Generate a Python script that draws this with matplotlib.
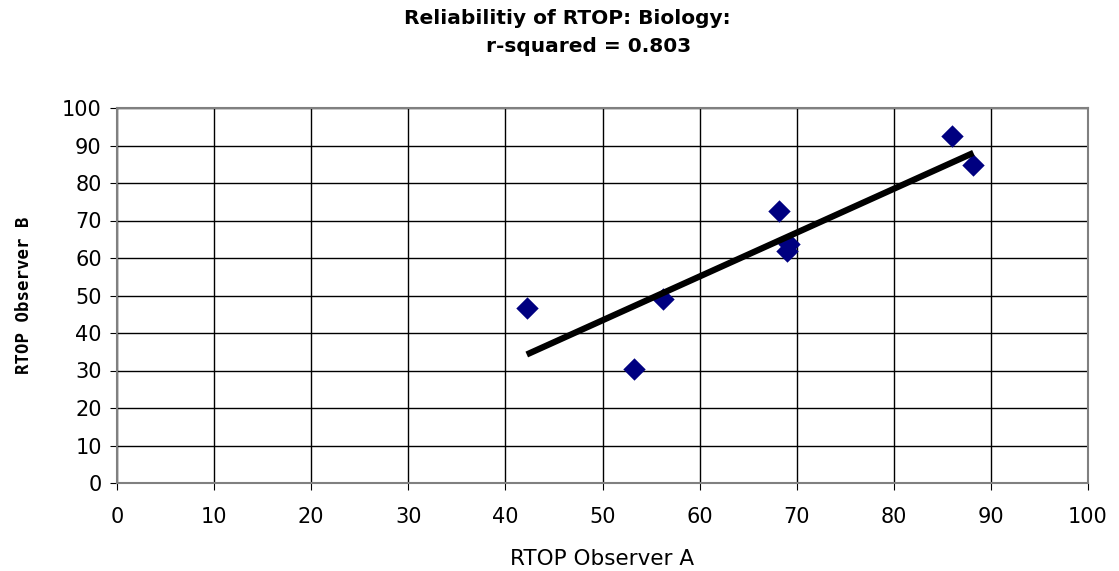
import numpy as np
import matplotlib.pyplot as plt

# RTOP scores from the two observers
observer_a = [42.2, 53.2, 56.2, 68.2, 69.2, 69.0, 86.0, 88.2]
observer_b = [46.8, 30.4, 49.0, 72.5, 63.7, 61.9, 92.5, 84.8]
ticks = list(range(0, 101, 10))

fig = plt.figure(figsize=(11.19, 5.71), dpi=100)
ax = fig.add_axes([117/1119, 1 - 483/571, (1088-117)/1119, (483-108)/571])

ax.scatter(observer_a, observer_b, marker='D', s=130, color='#000080', zorder=3, linewidths=0)

# linear trend line over the range of the data
slope, icpt = np.polyfit(observer_a, observer_b, 1)
xs = np.array([min(observer_a), max(observer_a)])
ax.plot(xs, slope*xs + icpt, color='black', lw=4.5, solid_capstyle='butt', zorder=4)

ax.set_xlim(0, 100)
ax.set_ylim(0, 100)
ax.set_xticks(ticks)
ax.set_yticks(ticks)
ax.grid(True, color='black', lw=1)
ax.set_axisbelow(True)
for s in ax.spines.values():
    s.set_color('#808080')
    s.set_linewidth(1.5)
ax.tick_params(direction='out', length=5, labelsize=15, color='black', pad=6)
ax.tick_params(axis='x', pad=12)

ax.set_xlabel('RTOP Observer A', fontsize=15.5, labelpad=16)
ax.set_ylabel('RTOP Observer B', fontsize=12.5, fontweight='bold', labelpad=21,
              family='DejaVu Sans Mono')
fig.text(0.507, 0.985, 'Reliabilitiy of RTOP: Biology:\n      r-squared = 0.803',
         ha='center', va='top', fontsize=14.5, fontweight='bold', linespacing=1.65)

fig.savefig('out.png', dpi=100)
